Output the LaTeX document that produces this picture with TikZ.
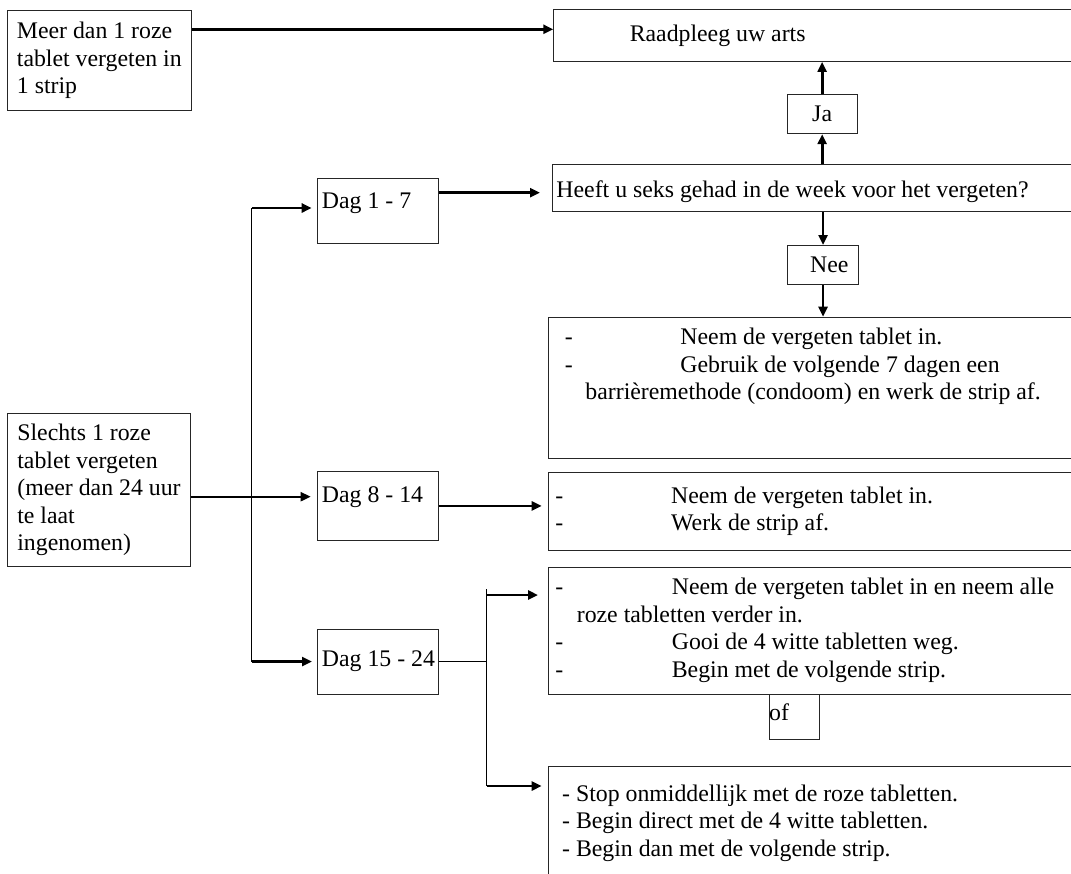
\documentclass[tikz,border=0pt]{standalone}
\usepackage{fontspec}
\setmainfont{Liberation Serif}
\usetikzlibrary{arrows.meta,calc}

\newcommand{\flowfont}{\fontsize{23.8pt}{27.5pt}\selectfont}
\newcommand{\tabdash}[1]{\makebox[#1][l]{-}}

\begin{document}
\begin{tikzpicture}[
    x=1pt, y=-1pt,
    >={Triangle[length=10pt,width=9pt]}, % Default arrow tip
    every node/.style={font=\flowfont},
    box/.style={draw=black!85, line width=0.9pt, rectangle, anchor=north west, inner sep=0pt},
    arr/.style={->, line width=2.7pt},
    link/.style={line width=1pt}
]

    % Page frame
    \useasboundingbox (0,0) rectangle (1071,873);
    \clip (0,0) rectangle (1071,873);

    % Left column: the two starting cases
    \node[box, minimum width=183.7pt, minimum height=100pt, align=flush left] (meer) at (7,10)
        {Meer dan 1 roze\\tablet vergeten in\\1 strip};
    \node[box, minimum width=183pt, minimum height=152.7pt, align=flush left] (slechts) at (7,413.3)
        {Slechts 1 roze\\tablet vergeten\\(meer dan 24 uur\\te laat\\ingenomen)};

    % Day boxes
    \node[box, minimum width=121pt, minimum height=64.7pt, text width=112pt, inner xsep=4.5pt, align=flush left, text depth=20pt] (dag1) at (317,178) {\mbox{Dag 1 - 7}};
    \node[box, minimum width=121pt, minimum height=69pt, text width=112pt, inner xsep=4.5pt, align=flush left, text depth=23pt] (dag8) at (317,471) {\mbox{Dag 8 - 14}};
    \node[box, minimum width=121pt, minimum height=65.2pt, text width=112pt, inner xsep=4.5pt, align=flush left] (dag15) at (317,628.5) {\mbox{Dag 15 - 24}};

    % Right column: questions and advice
    \node[box, minimum width=600pt, minimum height=51.7pt, text width=448pt, inner xsep=76pt, align=flush left] (raad) at (553.3,9.3) {Raadpleeg uw arts};
    \node[box, minimum width=70pt, minimum height=39pt] (ja) at (786.7,94.3) {Ja};
    \node[box, minimum width=600pt, minimum height=46.7pt, text width=591.4pt, inner xsep=4.3pt, align=flush left, text height=24pt] (heeft) at (551.7,164.3)
        {Heeft u seks gehad in de week voor het vergeten?};
    \node[box, minimum width=70.4pt, minimum height=39.3pt] (nee) at (787.4,245) {\hspace*{12.4pt}Nee};

    \node[box, minimum width=600pt, minimum height=141.6pt, text width=567pt, inner xsep=16.5pt, align=flush left, text depth=102.6pt] (b1) at (548,316.7)
        {\tabdash{115.5pt}Neem de vergeten tablet in.\\
         \tabdash{115.5pt}Gebruik de volgende 7 dagen een\\
         \hspace*{20.5pt}barrièremethode (condoom) en werk de strip af.};
    \node[box, minimum width=600pt, minimum height=78.3pt, text width=585.4pt, inner xsep=7.3pt, align=flush left] (b2) at (547.7,471.7)
        {\tabdash{115.7pt}Neem de vergeten tablet in.\\
         \tabdash{115.7pt}Werk de strip af.};
    \node[box, minimum width=600pt, minimum height=127pt, text width=585.4pt, inner xsep=7.3pt, align=flush left] (b3) at (547.7,566.5)
        {\tabdash{116.4pt}Neem de vergeten tablet in en neem alle\\
         \hspace*{21.4pt}roze tabletten verder in.\\
         \tabdash{116.4pt}Gooi de 4 witte tabletten weg.\\
         \tabdash{116.4pt}Begin met de volgende strip.};
    \node[box, minimum width=50pt, minimum height=45.5pt, text width=50pt, inner xsep=0pt, align=flush left, text depth=9pt] (of) at (768.7,693.5) {of};
    \node[box, minimum width=600pt, minimum height=114pt, text width=572pt, inner xsep=14pt, align=flush left] (b4) at (547.7,765.7)
        {- Stop onmiddellijk met de roze tabletten.\\
         - Begin direct met de 4 witte tabletten.\\
         - Begin dan met de volgende strip.};

    % More than one tablet forgotten
    \coordinate (meerout) at ($(meer.north east)+(0,19.3)$);
    \draw[arr] (meerout) -- (meerout -| raad.west);

    % Trunk from the single tablet case
    \coordinate (trunk) at (251.8,208);
    \draw[link] (trunk) -- (trunk |- dag15.west);
    \draw[arr, shorten >=5.3pt] (trunk) -- (trunk -| dag1.west);
    \draw[arr, shorten >=5pt] (trunk |- dag15.west) -- (dag15.west);
    \coordinate (dag8in) at ($(dag8.north west)+(0,25.7)$);
    \draw[arr, line width=2pt, shorten >=6.3pt] (dag8in -| slechts.east) -- (dag8in);

    % Day 1 - 7: question with yes / no
    \coordinate (dag1out) at ($(dag1.north east)+(0,14.7)$);
    \draw[arr, shorten >=11.7pt] (dag1out) -- (dag1out -| heeft.west);
    \draw[arr] (ja.south |- heeft.north) -- (ja.south);
    \draw[arr] (ja.north) -- (ja.north |- raad.south);
    \draw[arr] (nee.north |- heeft.south) -- (nee.north);
    \draw[arr] (nee.south) -- (nee.south |- b1.north);

    % Day 8 - 14
    \draw[arr, shorten >=6pt] (dag8.east) -- (dag8.east -| b2.west);

    % Day 15 - 24: two options
    \coordinate (split) at (486.8,589);
    \coordinate (b3in) at ($(b3.north west)+(0,28.5)$);
    \coordinate (b4in) at ($(b4.north west)+(0,20.3)$);
    \draw[link] (dag15.east) -- (dag15.east -| split);
    \draw[link] (split) -- (split |- b4in);
    \draw[arr, shorten >=9.7pt] (split |- b3in) -- (b3in);
    \draw[arr, shorten >=6pt] (split |- b4in) -- (b4in);

\end{tikzpicture}
\end{document}
